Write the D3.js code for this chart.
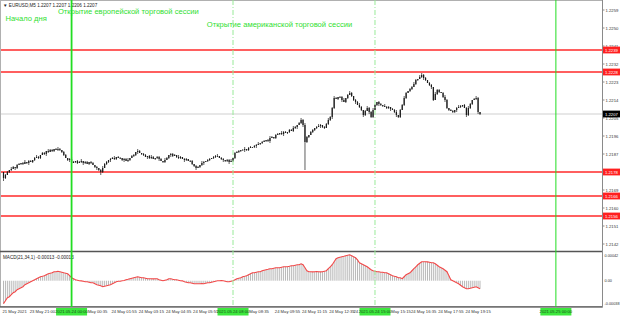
<!DOCTYPE html>
<html>
<head>
<meta charset="utf-8">
<script src="https://cdn.jsdelivr.net/npm/d3@7"></script>
<style>
  body { margin: 0; background: #fff; }
  svg { display: block; font-family: "Liberation Sans", Arial, sans-serif; }
</style>
</head>
<body>
<div id="chart"></div>
<script>
//**********************************************************************************************
//                                      DATA
//**********************************************************************************************
// EURUSD M5 closes, one per bar (open = previous close)
const firstOpen = 1.21780
const closes = [
  1.21750,1.21765,1.21780,1.21790,1.21795,1.21805,1.21800,1.21815,1.21820,1.21825,
  1.21820,1.21830,1.21825,1.21835,1.21830,1.21840,1.21850,1.21855,1.21850,1.21865,
  1.21875,1.21870,1.21885,1.21880,1.21890,1.21885,1.21895,1.21890,1.21895,1.21890,
  1.21880,1.21865,1.21850,1.21840,1.21845,1.21825,1.21830,1.21835,1.21825,1.21830,
  1.21835,1.21825,1.21830,1.21820,1.21830,1.21825,1.21815,1.21805,1.21800,1.21790,
  1.21780,1.21800,1.21820,1.21830,1.21840,1.21845,1.21850,1.21845,1.21855,1.21850,
  1.21850,1.21840,1.21845,1.21835,1.21840,1.21850,1.21860,1.21865,1.21880,1.21885,
  1.21875,1.21870,1.21865,1.21855,1.21860,1.21850,1.21855,1.21845,1.21850,1.21855,
  1.21845,1.21835,1.21830,1.21840,1.21850,1.21865,1.21870,1.21860,1.21865,1.21855,
  1.21850,1.21855,1.21845,1.21840,1.21845,1.21835,1.21835,1.21820,1.21810,1.21800,
  1.21805,1.21815,1.21825,1.21830,1.21835,1.21840,1.21845,1.21850,1.21855,1.21860,
  1.21860,1.21850,1.21845,1.21840,1.21835,1.21840,1.21830,1.21835,1.21850,1.21875,
  1.21880,1.21885,1.21890,1.21890,1.21895,1.21890,1.21900,1.21905,1.21905,1.21910,
  1.21915,1.21920,1.21925,1.21930,1.21935,1.21940,1.21935,1.21950,1.21955,1.21950,
  1.21965,1.21970,1.21975,1.21970,1.21980,1.21975,1.21980,1.21990,1.21985,1.22000,
  1.22005,1.22015,1.22025,1.22040,1.22015,1.21930,1.21955,1.21965,1.21980,1.21990,
  1.22000,1.22005,1.22010,1.22015,1.22005,1.22000,1.22020,1.22040,1.22055,1.22100,
  1.22150,1.22145,1.22155,1.22155,1.22140,1.22130,1.22150,1.22165,1.22175,1.22160,
  1.22140,1.22130,1.22115,1.22105,1.22090,1.22065,1.22085,1.22100,1.22080,1.22055,
  1.22090,1.22115,1.22130,1.22120,1.22115,1.22110,1.22105,1.22100,1.22105,1.22095,
  1.22090,1.22080,1.22065,1.22055,1.22090,1.22115,1.22150,1.22175,1.22185,1.22195,
  1.22205,1.22220,1.22240,1.22245,1.22255,1.22265,1.22250,1.22240,1.22225,1.22215,
  1.22205,1.22140,1.22170,1.22190,1.22180,1.22175,1.22155,1.22140,1.22100,1.22090,
  1.22085,1.22080,1.22090,1.22100,1.22105,1.22110,1.22115,1.22100,1.22065,1.22100,
  1.22120,1.22140,1.22145,1.22150,1.22080,1.22070
]
// wick lengths above / below the body, in half-pips (0.00005)
const upWick = [
  0,1,1,0,2,1,0,1,1,0, 1,2,0,1,1,0,1,2,1,0, 1,1,0,2,1,1,0,1,2,1, 0,1,1,0,1,2,1,0,1,1,
  2,0,1,1,0,1,1,0,1,0, 1,2,1,1,0,1,1,2,0,1, 1,0,1,1,2,0,1,1,0,2, 1,0,1,1,0,1,2,1,0,1,
  1,1,0,2,1,0,1,1,1,0, 2,1,0,1,1,0,1,1,0,1, 1,0,2,1,0,1,1,0,1,1, 2,0,1,1,0,1,1,2,0,1,
  1,1,0,1,2,0,1,1,0,1, 1,2,0,1,1,0,1,2,1,0, 1,1,0,2,1,1,0,1,1,2, 1,0,1,2,1,2,1,0,1,1,
  0,1,2,1,0,1,1,2,1,1, 2,1,0,1,1,2,0,1,2,1, 0,1,1,2,1,0,1,2,1,1, 2,1,0,1,1,0,2,1,1,0,
  1,1,2,0,1,1,2,1,0,1, 1,2,1,0,2,2,1,1,0,1, 1,0,2,1,1,0,1,2,1,0, 1,1,0,1,2,1,0,1,1,2,
  1,0,1,2,1,0
]
const downWick = [
  3,1,0,1,1,0,2,1,0,1, 1,0,1,2,0,1,1,0,1,1, 0,1,2,1,0,1,1,0,1,1, 1,1,0,1,2,1,0,1,1,0,
  1,2,1,0,1,1,0,1,2,1, 3,1,0,1,1,2,0,1,1,0, 1,1,2,0,1,1,0,1,1,2, 0,1,1,0,2,1,1,0,1,1,
  2,0,1,1,0,1,2,1,0,1, 1,1,0,2,1,0,1,1,1,2, 0,1,1,2,0,1,1,0,1,1, 1,0,1,2,1,1,2,0,1,1,
  0,1,1,0,2,1,1,0,1,1, 2,0,1,1,0,1,1,2,0,1, 1,0,1,1,2,0,1,1,0,1, 1,2,0,1,2,28,1,1,0,1,
  1,1,0,2,1,1,0,1,1,2, 1,0,1,1,2,0,1,1,0,1, 1,2,0,1,1,2,1,0,2,1, 1,0,1,2,1,1,0,1,1,2,
  0,1,2,1,1,0,1,1,0,1, 1,0,1,1,0,1,2,1,0,1, 2,1,0,1,1,0,1,2,1,1, 0,1,1,2,0,1,1,0,2,1,
  1,1,0,1,2,1
]
// MACD(21,34,1) main, in units of 0.00001
const macd = [
  -37.5,-32.6,-27.7,-26.1,-22.8,-19.6,-17.9,-14.7,-13.0,-11.4,
  -9.8,-6.5,-4.9,-3.3,-1.6,0,1.6,3.3,4.9,6.5,
  7.3,8.2,9.8,11.4,12.2,13.0,14.7,14.7,15.5,14.7,
  13.9,13.0,12.2,11.4,8.2,4.9,3.3,1.6,0.8,0,
  -0.2,-0.8,-1.6,-1.6,-2.4,-3.3,-3.3,-4.9,-6.5,-7.3,
  -8.2,-9.8,-9.0,-8.2,-7.3,-6.5,-4.9,-3.3,-1.6,-0.8,
  -0.8,0,0.3,1.6,2.4,3.3,4.1,4.9,5.7,6.5,
  5.7,4.9,4.9,4.1,3.3,3.3,3.3,3.1,3.3,3.2,
  1.6,0.8,0,0.8,1.6,3.3,3.3,2.4,1.6,1.6,
  0.8,0,-0.2,-1.6,-2.4,-3.3,-3.3,-4.1,-4.9,-4.9,
  -4.9,-4.9,-4.7,-4.9,-4.1,-3.3,-3.3,-2.4,-1.6,-0.8,
  0,0,0.2,0,-0.8,-1.6,-1.6,-0.8,0,1.6,
  3.3,4.1,4.9,6.5,7.3,8.2,9.8,11.4,13.0,13.0,
  13.9,14.7,14.7,16.3,17.1,17.9,18.7,19.6,19.6,20.4,
  21.2,21.2,21.2,22.0,22.8,22.8,22.8,23.6,24.5,24.5,
  25.3,26.1,26.1,27.7,26.1,21.2,16.3,14.7,14.7,14.5,
  14.7,14.9,14.7,14.5,14.7,15.5,16.3,19.6,22.8,26.1,
  31.0,35.9,37.5,38.3,39.1,39.9,40.8,41.6,42.4,40.8,
  39.1,37.5,34.2,29.3,27.7,26.1,24.5,22.8,20.4,17.9,
  16.3,15.5,14.7,14.7,13.9,13.9,13.0,13.0,11.4,9.8,
  8.2,7.3,6.5,4.9,4.9,3.3,6.5,9.8,11.4,13.0,
  16.3,19.6,22.8,26.1,28.5,31.0,31.0,31.0,30.8,30.2,
  29.3,29.3,27.7,25.3,22.8,21.2,19.6,17.1,14.7,8.2,
  1.6,0,-1.6,-3.3,-4.9,-7.3,-9.8,-11.4,-13.0,-13.0,
  -12.2,-11.4,-10.6,-9.8,-11.4,-13.0
]

const levels = [1.2239, 1.2228, 1.2178, 1.2166, 1.2156]
const priceTicks = [1.2259, 1.2250, 1.2241, 1.2232, 1.2223, 1.2214, 1.2205, 1.2196,
                    1.2187, 1.2178, 1.2169, 1.2160, 1.2151, 1.2142]
const macdTicks = [{v: 0.00042, label: "0.00042"}, {v: 0, label: "0.00"}, {v: -0.00038, label: "-0.00038"}]
const lastPrice = 1.2207

const timeTicks = [
  {bar: 0, label: "21 May 2021"}, {bar: 14, label: "23 May 21:00"},
  {bar: 42, label: "24 May 00:35"}, {bar: 56, label: "24 May 01:55"}, {bar: 70, label: "24 May 03:15"},
  {bar: 84, label: "24 May 04:35"}, {bar: 98, label: "24 May 05:55"},
  {bar: 126, label: "24 May 08:35"}, {bar: 140, label: "24 May 09:55"}, {bar: 154, label: "24 May 11:15"},
  {bar: 168, label: "24 May 12:35"}, {bar: 182, label: "24 May 13:55"}, {bar: 196, label: "24 May 15:15"},
  {bar: 210, label: "24 May 16:35"}, {bar: 224, label: "24 May 17:55"}, {bar: 238, label: "24 May 19:15"}
]
// vertical session lines
const sessions = [
  {bar: 35, label: "2021.05.24 00:00", style: "solid"},
  {bar: 118, label: "2021.05.24 08:00", style: "dash"},
  {bar: 191, label: "2021.05.24 15:00", style: "dash"},
  {bar: 284, label: "2021.05.25 00:00", style: "thin"}
]
const notes = [
  {bar: 1, price: 1.22535, text: "Начало дня"},
  {bar: 28, price: 1.22570, text: "Открытие европейской торговой сессии"},
  {bar: 104.5, price: 1.22505, text: "Открытие американской торговой сессии"}
]

//**********************************************************************************************
//                                      CONSTANTS
//**********************************************************************************************
const WIDTH = 620, HEIGHT = 316
const PLOT_RIGHT = 602
const MAIN_TOP = 2, MAIN_BOTTOM = 249
const MACD_TOP = 253, MACD_BOTTOM = 306
const BAR_STEP = 1.945
const HALF_PIP = 0.00005
const TAG_HALF = 15.5
const TIME_LABEL_W = 24

const svg = d3.select("#chart").append("svg")
  .attr("width", WIDTH)
  .attr("height", HEIGHT)

const x = d3.scaleLinear().domain([0, 307]).range([3.5, 3.5 + 307 * BAR_STEP])
const y = d3.scaleLinear().domain([1.21395, 1.2263]).range([MAIN_BOTTOM, MAIN_TOP])
const yM = d3.scaleLinear().domain([-0.000413, 0.000453]).range([MACD_BOTTOM, MACD_TOP])

svg.append("defs").append("clipPath").attr("id", "mainClip")
  .append("rect").attr("x", 1).attr("y", 1).attr("width", PLOT_RIGHT - 1).attr("height", MAIN_BOTTOM + 1)

// frames
svg.append("rect").attr("x", 0.5).attr("y", 0.5).attr("width", PLOT_RIGHT).attr("height", 306.5)
  .attr("fill", "none").attr("stroke", "#b0b0b0")
svg.append("line").attr("x1", PLOT_RIGHT + 0.5).attr("x2", PLOT_RIGHT + 0.5).attr("y1", 0).attr("y2", 307.5)
  .attr("stroke", "#8a8a8a")

//**********************************************************************************************
//                                      MAIN PANEL
//**********************************************************************************************
const main = svg.append("g").attr("clip-path", "url(#mainClip)")

// current price line
main.append("line").attr("x1", 0).attr("x2", PLOT_RIGHT).attr("y1", y(lastPrice)).attr("y2", y(lastPrice))
  .attr("stroke", "#cfcfcf").attr("stroke-width", 1)

main.selectAll(".level").data(levels).enter().append("line")
  .attr("x1", 0).attr("x2", PLOT_RIGHT)
  .attr("y1", d => y(d)).attr("y2", d => y(d))
  .attr("stroke", "#ff2a2a").attr("stroke-width", 1.4)

const bars = closes.map((c, i) => {
  const o = i === 0 ? firstOpen : closes[i - 1]
  return {
    i: i, o: o, c: c,
    h: Math.max(o, c) + upWick[i] * HALF_PIP,
    l: Math.min(o, c) - downWick[i] * HALF_PIP
  }
})

main.selectAll(".wick").data(bars).enter().append("line")
  .attr("x1", d => x(d.i)).attr("x2", d => x(d.i))
  .attr("y1", d => y(d.h)).attr("y2", d => y(d.l))
  .attr("stroke", "#1a1a1a").attr("stroke-width", 0.7)

main.selectAll(".body").data(bars).enter().append("rect")
  .attr("x", d => x(d.i) - 0.6)
  .attr("y", d => Math.min(y(d.o), y(d.c)))
  .attr("width", 1.2)
  .attr("height", d => Math.max(0.7, Math.abs(y(d.o) - y(d.c))))
  .attr("fill", "#1a1a1a")

main.selectAll(".note").data(notes).enter().append("text")
  .attr("x", d => x(d.bar)).attr("y", d => y(d.price))
  .attr("font-size", 7.6).attr("fill", "#2fe02f")
  .text(d => d.text)

svg.append("text").attr("x", 3).attr("y", 6.5).attr("font-size", 4.6).attr("fill", "#222")
  .text("▼ EURUSD,M5  1.2207 1.2207 1.2206 1.2207")

//**********************************************************************************************
//                                      MACD PANEL
//**********************************************************************************************
svg.append("line").attr("x1", 0).attr("x2", PLOT_RIGHT).attr("y1", 251.5).attr("y2", 251.5)
  .attr("stroke", "#555").attr("stroke-width", 1.3)
svg.append("line").attr("x1", 0).attr("x2", PLOT_RIGHT).attr("y1", 306.8).attr("y2", 306.8)
  .attr("stroke", "#555").attr("stroke-width", 1.3)

svg.selectAll(".hist").data(macd).enter().append("line")
  .attr("x1", (d, i) => x(i)).attr("x2", (d, i) => x(i))
  .attr("y1", yM(0)).attr("y2", d => yM(d * 1e-5))
  .attr("stroke", "#b9b9b9").attr("stroke-width", 1)

svg.append("path").datum(macd)
  .attr("d", d3.line().x((d, i) => x(i)).y(d => yM(d * 1e-5)))
  .attr("fill", "none").attr("stroke", "#f24848").attr("stroke-width", 1.1)

svg.append("text").attr("x", 3).attr("y", 258.5).attr("font-size", 4.6).attr("fill", "#222")
  .text("MACD(21,34,1) -0.00013 -0.00013")

//**********************************************************************************************
//                                      SESSION LINES
//**********************************************************************************************
svg.selectAll(".session").data(sessions).enter().append("line")
  .attr("x1", d => x(d.bar)).attr("x2", d => x(d.bar))
  .attr("y1", 0).attr("y2", 307)
  .attr("stroke", d => d.style === "dash" ? "#98ea98" : "#22dd22")
  .attr("stroke-width", d => d.style === "solid" ? 1.8 : 1)
  .attr("stroke-dasharray", d => d.style === "dash" ? "5,2,1,2" : null)

//**********************************************************************************************
//                                      AXES
//**********************************************************************************************
const axisR = svg.append("g").attr("font-size", 4.2).attr("fill", "#333")
axisR.selectAll(".pt").data(priceTicks).enter().append("text")
  .attr("x", 605.5).attr("y", d => y(d) + 1.5).text(d => d.toFixed(4))
axisR.selectAll(".ptick").data(priceTicks).enter().append("line")
  .attr("x1", PLOT_RIGHT).attr("x2", PLOT_RIGHT + 2.5).attr("y1", d => y(d)).attr("y2", d => y(d))
  .attr("stroke", "#8a8a8a")
axisR.selectAll(".mt").data(macdTicks).enter().append("text")
  .attr("x", 604.5).attr("y", d => yM(d.v) + 1.5).attr("font-size", 3.8).text(d => d.label)

// price boxes on the right
const tags = levels.map(v => ({v: v, fill: "#ff2020"})).concat([{v: lastPrice, fill: "#000"}])
const tag = svg.selectAll(".tag").data(tags).enter().append("g")
tag.append("rect").attr("x", PLOT_RIGHT + 1).attr("y", d => y(d.v) - 3.4)
  .attr("width", 17).attr("height", 6.8).attr("fill", d => d.fill)
tag.append("text").attr("x", PLOT_RIGHT + 3).attr("y", d => y(d.v) + 1.5)
  .attr("font-size", 4.2).attr("fill", "#fff").text(d => d.v.toFixed(4))

// time axis: the session tags sit on top of the regular labels, so only the
// uncovered part of a label stays visible (like the terminal does)
const boxes = sessions.map(s => [x(s.bar) - TAG_HALF, x(s.bar) + TAG_HALF])
const visibleTicks = []
timeTicks.forEach(t => {
  let x0 = x(t.bar) - 1, x1 = x0 + TIME_LABEL_W, text = t.label
  for (const [b0, b1] of boxes) {
    if (x0 >= b0 - 1 && x0 < b1) {              // start hidden: keep the tail
      if (x1 <= b1) { text = null; break }
      text = t.label.split(" ").slice(1).join(" "); x0 = b1 + 0.8
    } else if (x1 > b0 && x0 < b0) {            // end hidden: keep the head
      text = t.label.split(" ")[0]; x0 = Math.min(x0, b0 - 6)
    }
  }
  if (text) visibleTicks.push({x0: x0, label: text})
})

svg.selectAll(".tt").data(visibleTicks).enter().append("text")
  .attr("x", d => d.x0).attr("y", 313)
  .attr("font-size", 4.2).attr("fill", "#333").text(d => d.label)

const sTag = svg.selectAll(".stag").data(sessions).enter().append("g")
sTag.append("rect").attr("x", d => x(d.bar) - TAG_HALF).attr("y", 308)
  .attr("width", TAG_HALF * 2).attr("height", 7.5).attr("fill", "#3de83d")
sTag.append("text").attr("x", d => x(d.bar)).attr("y", 313.3).attr("text-anchor", "middle")
  .attr("font-size", 4.2).attr("fill", "#1a4d1a").text(d => d.label)
</script>
</body>
</html>
